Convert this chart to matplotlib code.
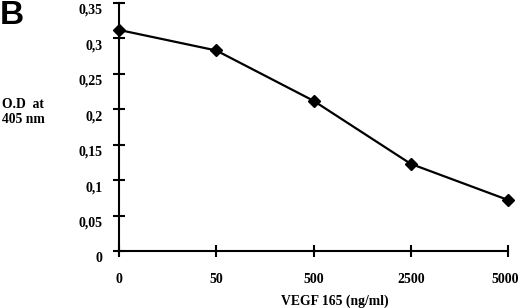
import matplotlib
matplotlib.use("Agg")
import matplotlib.pyplot as plt
import matplotlib.transforms as mtransforms

categories = ["0", "50", "500", "2500", "5000"]
od_values = [0.312, 0.283, 0.212, 0.123, 0.072]
y_ticks = [0, 0.05, 0.1, 0.15, 0.2, 0.25, 0.3, 0.35]
y_tick_labels = ["0", "0,05", "0,1", "0,15", "0,2", "0,25", "0,3", "0,35"]

serif = ["Liberation Serif", "DejaVu Serif"]

fig = plt.figure(figsize=(5.2, 3.08), dpi=100)
ax = fig.add_axes([119/520, 1-251/308, (508-119)/520, (251-3)/308])

x = list(range(len(categories)))
ax.plot(x, od_values, color="black", lw=1.6, marker="D", ms=6, mfc="black", mec="black", clip_on=False, zorder=3)

ax.set_xlim(0, len(categories)-1)
ax.set_ylim(0, 0.35)
ax.set_xticks(x)
ax.set_xticklabels(categories)
ax.set_yticks(y_ticks)
ax.set_yticklabels(y_tick_labels)

for s in ["top", "right"]:
    ax.spines[s].set_visible(False)
for s in ["left", "bottom"]:
    ax.spines[s].set_linewidth(1.5)

ax.tick_params(axis="both", direction="inout", length=8, width=1.5, colors="black")
ax.tick_params(axis="y", pad=8)
ax.tick_params(axis="x", pad=12)
for lab in ax.get_xticklabels() + ax.get_yticklabels():
    lab.set_fontfamily(serif)
    lab.set_fontweight("bold")
    lab.set_fontsize(10)

# labels in the reference sit a little below their ticks
down = mtransforms.ScaledTranslation(0, -6/100, fig.dpi_scale_trans)
for lab in ax.get_yticklabels():
    lab.set_transform(lab.get_transform() + down)
left = mtransforms.ScaledTranslation(-3/100, 0, fig.dpi_scale_trans)
last = ax.get_xticklabels()[-1]
last.set_transform(last.get_transform() + left)

fig.text(335/520, 1-301/308, "VEGF 165 (ng/ml)", ha="center", va="center",
         fontfamily=serif, fontweight="bold", fontsize=9.8)
fig.text(2/520, 1-112/308, "O.D  at\n405 nm", ha="left", va="center",
         fontfamily=serif, fontweight="bold", fontsize=9.8, linespacing=1.25)
fig.text(0/520, 1-16/308, "B", ha="left", va="center",
         fontfamily=["Liberation Sans", "DejaVu Sans"], fontweight="bold", fontsize=24)

fig.savefig("out.png", dpi=100)
